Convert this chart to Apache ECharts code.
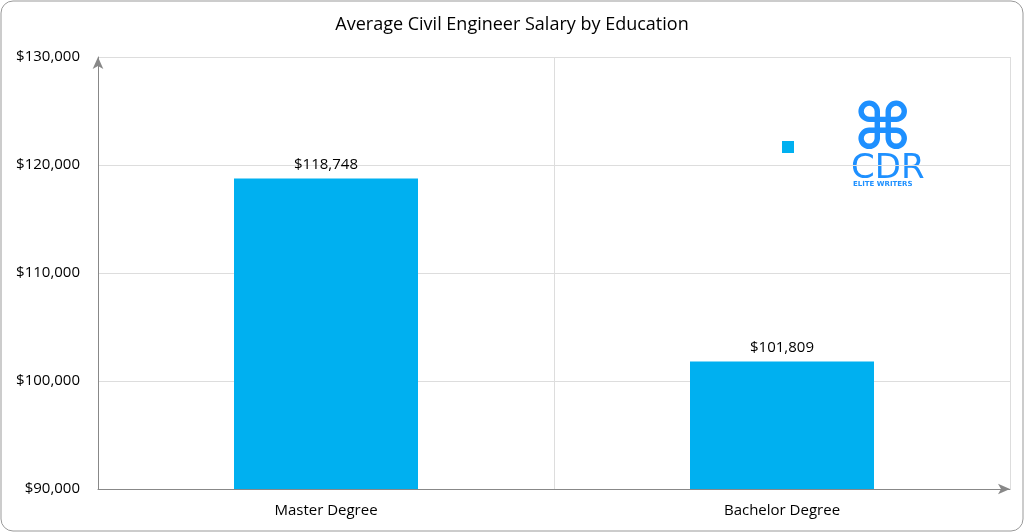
<!DOCTYPE html><html><head><meta charset="utf-8"><script src="https://cdn.jsdelivr.net/npm/echarts@6/dist/echarts.min.js"></script>
<style>html,body{margin:0;padding:0;background:#fff}#c{width:1024px;height:532px}</style></head><body><div id="c"></div><script>
const categories=['Master Degree','Bachelor Degree'];
const values=[118748,101809];
const chart=echarts.init(document.getElementById('c'));
const fmt=v=>'$'+v.toLocaleString('en-US');
chart.setOption({
 animation:false,
 title:{text:'Average Civil Engineer Salary by Education',left:'center',top:11,textStyle:{fontFamily:'Open Sans',fontWeight:'normal',fontSize:18,color:'#000'}},
 legend:{data:[{name:'s',icon:'rect'}],formatter:()=>'',left:777,top:136,itemWidth:12,itemHeight:12},
 grid:{left:98,right:14,top:57,bottom:43},
 xAxis:{type:'category',data:categories,axisTick:{show:false},
  axisLine:{lineStyle:{color:'#888'},symbol:['none','arrow'],symbolSize:[8,12]},
  splitLine:{show:true,lineStyle:{color:'#ddd'}},
  axisLabel:{fontFamily:'Open Sans',fontSize:15,color:'#000',margin:14}},
 yAxis:{type:'value',min:90000,max:130000,interval:10000,
  axisLine:{show:true,lineStyle:{color:'#888'},symbol:['none','arrow'],symbolSize:[8,12]},
  splitLine:{lineStyle:{color:'#ddd'}},
  axisLabel:{formatter:fmt,fontFamily:'Open Sans',fontSize:15,color:'#000',margin:18}},
 series:[{name:'s',type:'bar',data:values,barWidth:184,itemStyle:{color:'#00b0f0'},
  label:{show:true,position:'top',formatter:p=>fmt(p.value),fontFamily:'Open Sans',fontSize:15,color:'#000',distance:6}}],
 graphic:[
  {type:'rect',shape:{x:1,y:1,width:1022,height:530,r:12},style:{fill:'none',stroke:'#999',lineWidth:1},silent:true},
  {type:'text',left:853,top:100,style:{text:'⌘',font:'bold 64px DejaVu Sans',fill:'#1e90ff'}},
  {type:'text',left:851,top:152,style:{text:'CDR',font:'34px DejaVu Sans',fill:'#1e90ff'}},
  {type:'text',left:853,top:181,style:{text:'ELITE WRITERS',font:'bold 7px DejaVu Sans',fill:'#1e90ff'}}
 ]
});
</script></body></html>
